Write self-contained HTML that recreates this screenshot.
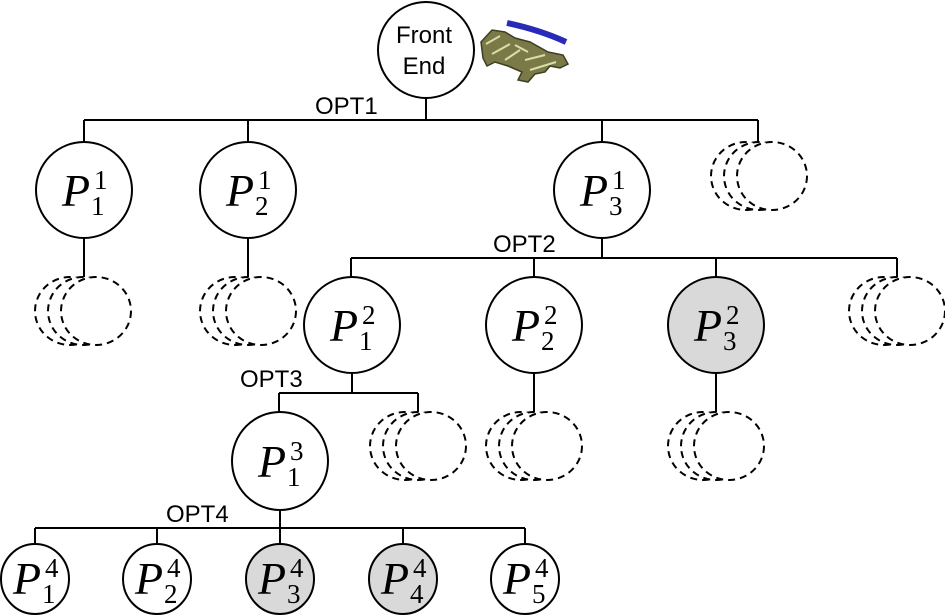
<!DOCTYPE html>
<html><head><meta charset="utf-8"><style>
html,body{margin:0;padding:0;background:#fff}
svg{display:block}
.s{fill:none;stroke:#000;stroke-width:2}
.n{fill:#fff;stroke:#000;stroke-width:2}
.g{fill:#d9d9d9;stroke:#000;stroke-width:2}
.d{fill:#fff;stroke:#000;stroke-width:2;stroke-dasharray:7,5}
.l{font-family:"Liberation Sans",sans-serif;font-size:24px}
.P{font-family:"Liberation Serif",serif;font-style:italic;font-size:46px}
.i{font-family:"Liberation Serif",serif;font-size:27px}
</style></head><body>
<svg width="945" height="616" viewBox="0 0 945 616" xmlns="http://www.w3.org/2000/svg">
<defs>
<g id="dsh">
<ellipse cx="-13" cy="0" rx="35" ry="34" class="d"/>
<ellipse cx="0" cy="0" rx="35" ry="34" class="d"/>
<ellipse cx="13" cy="0" rx="35" ry="34" class="d"/>
</g>
</defs>
<path class="s" d="M426 97V120M84 120H758M84 120V142M248 120V142M602 120V142M758 120V142"/>
<path class="s" d="M84 238V277M248 238V277"/>
<path class="s" d="M602 238V258M351 258H897M351 258V277M534 258V277M716 258V277M897 258V277"/>
<path class="s" d="M352 373V393M279 393H418M279 393V412M418 393V412M534 373V412M716 373V412"/>
<path class="s" d="M280 510V528M35 528H525M35 528V544M157 528V544M280 528V544M403 528V544M525 528V544"/>
<ellipse cx="426" cy="50" rx="48" ry="48" class="n"/>
<text x="424" y="43" class="l" text-anchor="middle">Front</text>
<text x="424" y="74" class="l" text-anchor="middle">End</text>
<path d="M481 42 L492 30 L505 32 L515 38 L530 42 L548 52 L563 55 L568 64 L560 68 L550 66 L545 72 L535 74 L528 82 L518 80 L522 72 L508 66 L495 62 L487 66 L483 58 Z" fill="#7a7a48" stroke="#3e3e22" stroke-width="1.5"/>
<path d="M486 44 L500 36 M492 54 L510 44 M505 60 L520 50 M525 60 L545 55 M530 70 L556 62 M515 45 L528 52" stroke="#dcdca8" stroke-width="2"/>
<path d="M507 23 Q540 30 566 42" stroke="#2a2ab8" stroke-width="6" fill="none"/>
<text x="315" y="114" class="l">OPT1</text>
<text x="493" y="252" class="l">OPT2</text>
<text x="240" y="387" class="l">OPT3</text>
<text x="166" y="522" class="l">OPT4</text>
<ellipse cx="84" cy="190" rx="48" ry="48" class="n"/>
<ellipse cx="248" cy="190" rx="48" ry="48" class="n"/>
<ellipse cx="602" cy="190" rx="48" ry="48" class="n"/>
<use href="#dsh" x="759" y="176"/>
<use href="#dsh" x="83" y="311"/>
<use href="#dsh" x="248" y="311"/>
<ellipse cx="352" cy="325" rx="48" ry="48" class="n"/>
<ellipse cx="534" cy="325" rx="48" ry="48" class="n"/>
<ellipse cx="716" cy="325" rx="48" ry="48" class="g"/>
<use href="#dsh" x="897" y="311"/>
<use href="#dsh" x="418" y="446"/>
<use href="#dsh" x="534" y="446"/>
<use href="#dsh" x="716" y="446"/>
<ellipse cx="280" cy="461" rx="48" ry="49" class="n"/>
<ellipse cx="35" cy="579" rx="34" ry="35" class="n"/>
<ellipse cx="157" cy="579" rx="34" ry="35" class="n"/>
<ellipse cx="280" cy="579" rx="34" ry="35" class="g"/>
<ellipse cx="403" cy="579" rx="34" ry="35" class="g"/>
<ellipse cx="525" cy="579" rx="34" ry="35" class="n"/>
<g>
<text x="62" y="206" class="P">P</text><text x="94" y="189" class="i">1</text><text x="91" y="215" class="i">1</text>
<text x="226" y="206" class="P">P</text><text x="258" y="189" class="i">1</text><text x="255" y="215" class="i">2</text>
<text x="580" y="206" class="P">P</text><text x="612" y="189" class="i">1</text><text x="609" y="215" class="i">3</text>
<text x="330" y="341" class="P">P</text><text x="362" y="324" class="i">2</text><text x="359" y="350" class="i">1</text>
<text x="512" y="341" class="P">P</text><text x="544" y="324" class="i">2</text><text x="541" y="350" class="i">2</text>
<text x="694" y="341" class="P">P</text><text x="726" y="324" class="i">2</text><text x="723" y="350" class="i">3</text>
<text x="258" y="477" class="P">P</text><text x="290" y="460" class="i">3</text><text x="287" y="486" class="i">1</text>
<text x="13" y="594" class="P">P</text><text x="45" y="577" class="i">4</text><text x="42" y="603" class="i">1</text>
<text x="135" y="594" class="P">P</text><text x="167" y="577" class="i">4</text><text x="164" y="603" class="i">2</text>
<text x="258" y="594" class="P">P</text><text x="290" y="577" class="i">4</text><text x="287" y="603" class="i">3</text>
<text x="381" y="594" class="P">P</text><text x="413" y="577" class="i">4</text><text x="410" y="603" class="i">4</text>
<text x="503" y="594" class="P">P</text><text x="535" y="577" class="i">4</text><text x="532" y="603" class="i">5</text>
</g>
</svg>
</body></html>
